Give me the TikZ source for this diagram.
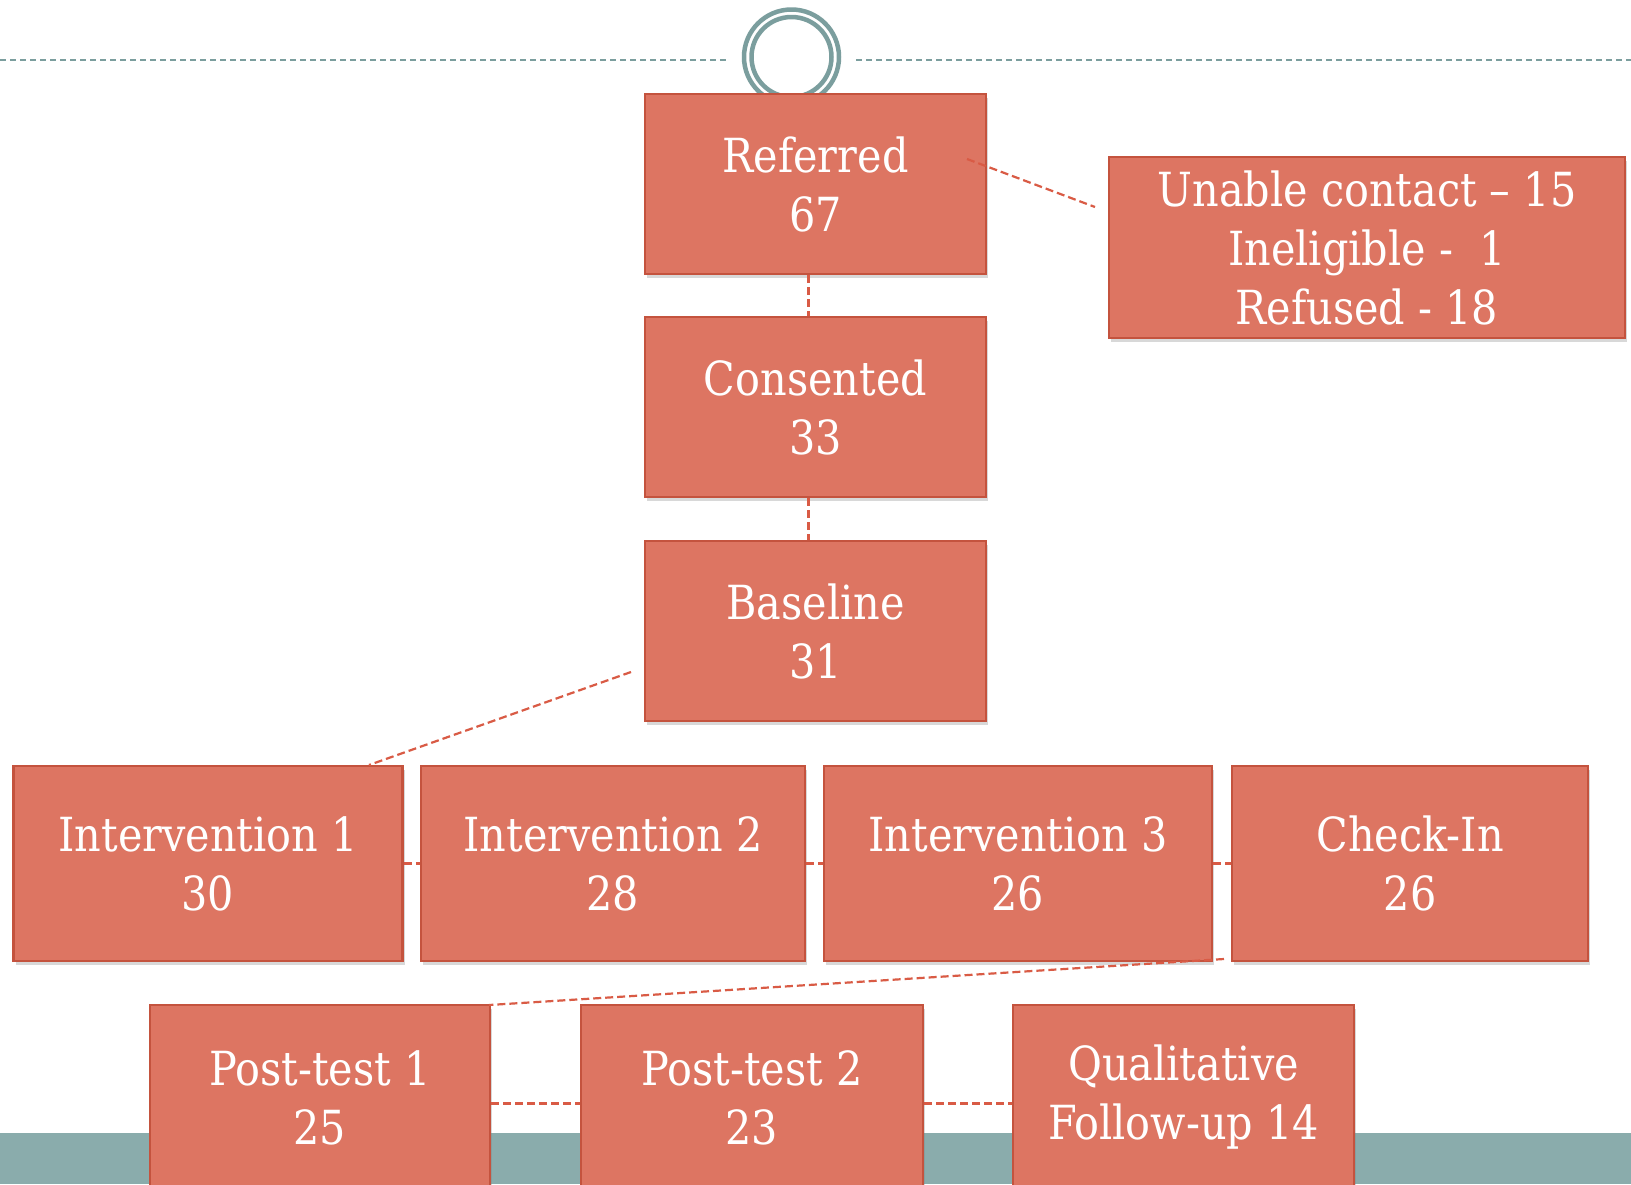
\documentclass[tikz,border=0pt]{standalone}
\usepackage{fontspec}
\setmainfont{DejaVu Serif}[FakeStretch=0.88]
\usetikzlibrary{shadows,calc}
\definecolor{boxfill}{HTML}{DD7562}
\definecolor{boxline}{HTML}{C4533E}
\definecolor{connred}{HTML}{D95B45}
\definecolor{tealline}{HTML}{7B9E9E}
\definecolor{bandteal}{HTML}{8AACAC}
\begin{document}
\begin{tikzpicture}[x=1pt,y=-1pt,
  box/.style={draw=boxline, line width=2.8pt, fill=boxfill, text=white,
    align=center, inner sep=0pt, font=\fontsize{47}{59}\selectfont,
    drop shadow={opacity=0.3, shadow xshift=2pt, shadow yshift=-4pt}},
  connector/.style={draw=connred, line width=2.2pt, dash pattern=on 8pt off 4pt},
  topline/.style={draw=tealline, line width=2pt, dash pattern=on 6pt off 4pt}]
\useasboundingbox (0,0) rectangle (1631,1184);
\clip (0,0) rectangle (1631,1184);
\fill[white] (0,0) rectangle (1631,1184);
% bottom band
\fill[bandteal] (0,1133) rectangle (1631,1184);
% top decoration
\coordinate (tl0) at (0,60);
\coordinate (tl1) at (726,60);
\coordinate (tr0) at (856,60);
\coordinate (tr1) at (1631,60);
\draw[topline] (tl0) -- (tl1);
\draw[topline] (tr0) -- (tr1);
\node[circle, draw=tealline, line width=4.5pt, fill=white, minimum size=95pt, inner sep=0pt] (ringout) at (791.5,57) {};
\node[circle, draw=tealline, line width=4.5pt, minimum size=80pt, inner sep=0pt] (ringin) at (791.5,57) {};
% boxes
\node[box, minimum width=341pt, minimum height=180pt] (ref) at (815.5,184) {Referred\\67};
\node[box, minimum width=341pt, minimum height=180pt] (cons) at (815.5,407) {Consented\\33};
\node[box, minimum width=341pt, minimum height=180pt] (base) at (815.5,631) {Baseline\\31};
\node[box, minimum width=516pt, minimum height=181pt] (unable) at (1367,247.5) {Unable contact – 15\\Ineligible -~ 1\\Refused - 18};
\node[box, minimum width=389pt, minimum height=195pt] (i1) at (208,863.5) {Intervention 1\\30};
\node[box, minimum width=384pt, minimum height=195pt] (i2) at (613,863.5) {Intervention 2\\28};
\node[box, minimum width=388pt, minimum height=195pt] (i3) at (1018,863.5) {Intervention 3\\26};
\node[box, minimum width=356pt, minimum height=195pt] (chk) at (1410,863.5) {Check-In\\26};
\node[box, minimum width=340pt, minimum height=185pt] (p1) at (320,1097.5) {Post-test 1\\25};
\node[box, minimum width=342pt, minimum height=185pt] (p2) at (752,1097.5) {Post-test 2\\23};
\node[box, minimum width=341pt, minimum height=185pt] (q) at (1183.5,1097.5) {Qualitative\\Follow-up 14};
% connectors
\coordinate (c1) at (967,159);
\coordinate (c2) at (1095,207);
\draw[connector] (c1) -- (c2);
\draw[connector] ($(ref.south)+(-7,0)$) -- ($(cons.north)+(-7,0)$);
\draw[connector] ($(cons.south)+(-7,0)$) -- ($(base.north)+(-7,0)$);
\coordinate (c3) at (631,672);
\coordinate (c4) at (369,765);
\draw[connector] (c3) -- (c4);
\draw[connector] (i1) -- (i2);
\draw[connector] (i2) -- (i3);
\draw[connector] (i3) -- (chk);
\coordinate (c5) at (1224,959);
\coordinate (c6) at (489,1005);
\draw[connector] (c5) -- (c6);
\draw[connector] ($(p1.east)+(0,6)$) -- ($(p2.west)+(0,6)$);
\draw[connector] ($(p2.east)+(0,6)$) -- ($(q.west)+(0,6)$);
\end{tikzpicture}
\end{document}
